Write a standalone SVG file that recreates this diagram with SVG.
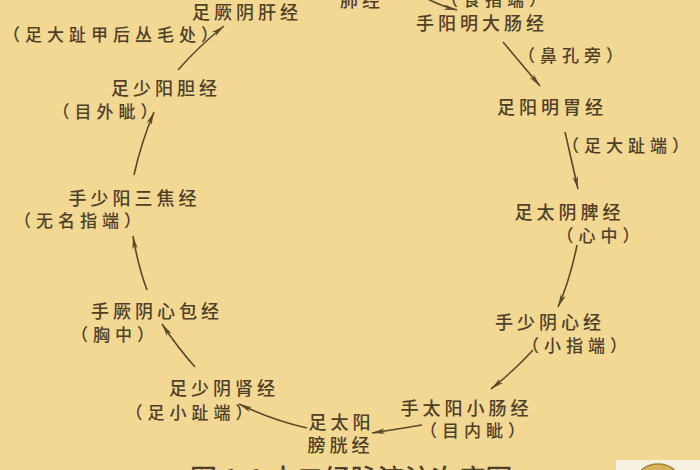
<svg xmlns="http://www.w3.org/2000/svg" width="700" height="470" viewBox="0 0 700 470">
<style>
.bg{fill:#f2d893}
.n{font-family:"Noto Sans CJK SC","Noto Sans",sans-serif;font-size:18px;font-weight:500;letter-spacing:4px;fill:#4f4028;text-anchor:middle}
.p{font-family:"Noto Sans CJK SC","Noto Sans",sans-serif;font-size:17px;font-weight:500;letter-spacing:5px;fill:#4f4028;text-anchor:middle}
.cap{font-family:"Noto Sans CJK SC","Noto Sans",sans-serif;font-size:27px;font-weight:500;fill:#4f4028}
.c{fill:none;stroke:#5a482b;stroke-width:1.6;marker-end:url(#ah)}
</style>
<defs>
<marker id="ah" markerUnits="userSpaceOnUse" markerWidth="16" markerHeight="8" refX="13" refY="4" orient="auto">
<path d="M0,1.3 L13,4 L0,6.7 L3.5,4 Z" fill="#5a482b"/>
</marker>
</defs>
<rect class="bg" x="0" y="0" width="700" height="470"/>
<g id="lung"><text class="n" x="362" y="7">肺经</text><text class="p" x="496" y="6">（食指端）</text></g>
<g id="large-intestine"><text class="n" x="482" y="30">手阳明大肠经</text><text class="p" x="573" y="62">（鼻孔旁）</text></g>
<g id="stomach"><text class="n" x="552" y="113.5">足阳明胃经</text><text class="p" x="628" y="152">（足大趾端）</text></g>
<g id="spleen"><text class="n" x="569.5" y="218.5">足太阴脾经</text><text class="p" x="600.5" y="242">（心中）</text></g>
<g id="heart"><text class="n" x="550" y="328.5">手少阴心经</text><text class="p" x="577" y="352">（小指端）</text></g>
<g id="small-intestine"><text class="n" x="466.5" y="414.5">手太阳小肠经</text><text class="p" x="475" y="437">（目内眦）</text></g>
<g id="bladder"><text class="n" x="341.5" y="429">足太阳</text><text class="n" x="340.5" y="451.5">膀胱经</text></g>
<g id="kidney"><text class="n" x="224" y="394.5">足少阴肾经</text><text class="p" x="191.5" y="419">（足小趾端）</text></g>
<g id="pericardium"><text class="n" x="157" y="318">手厥阴心包经</text><text class="p" x="115" y="341">（胸中）</text></g>
<g id="triple-burner"><text class="n" x="134.5" y="204.5">手少阳三焦经</text><text class="p" x="80" y="227">（无名指端）</text></g>
<g id="gallbladder"><text class="n" x="166" y="94.5">足少阳胆经</text><text class="p" x="107.5" y="118">（目外眦）</text></g>
<g id="liver"><text class="n" x="247" y="18.5">足厥阴肝经</text><text class="p" x="113" y="41">（足大趾甲后丛毛处）</text></g>
<g id="connectors">
<path class="c" d="M424,-3 Q440,6 457,10"/>
<path class="c" d="M503,42 L540,86"/>
<path class="c" d="M565,132 L578,189"/>
<path class="c" d="M577,245 Q570,280 558,307"/>
<path class="c" d="M533,350 Q515,370 491,389"/>
<path class="c" d="M422,425 Q398,429 372,433"/>
<path class="c" d="M307,428 Q272,420 239,404"/>
<path class="c" d="M195,367 Q178,348 162,324"/>
<path class="c" d="M147,290 Q138,266 133,236"/>
<path class="c" d="M134,175 Q141,143 154,112"/>
<path class="c" d="M178,70 Q198,47 224,26"/>
</g>
<g id="caption"><text class="cap" x="190" y="489">图 1-1  十二经脉流注次序图</text></g>
<g id="logo"><rect x="616" y="460" width="84" height="12" fill="#f7f1e2"/><ellipse cx="658" cy="480" rx="21" ry="16" fill="#d8b25a" stroke="#a9842e" stroke-width="1.5"/></g>
</svg>
